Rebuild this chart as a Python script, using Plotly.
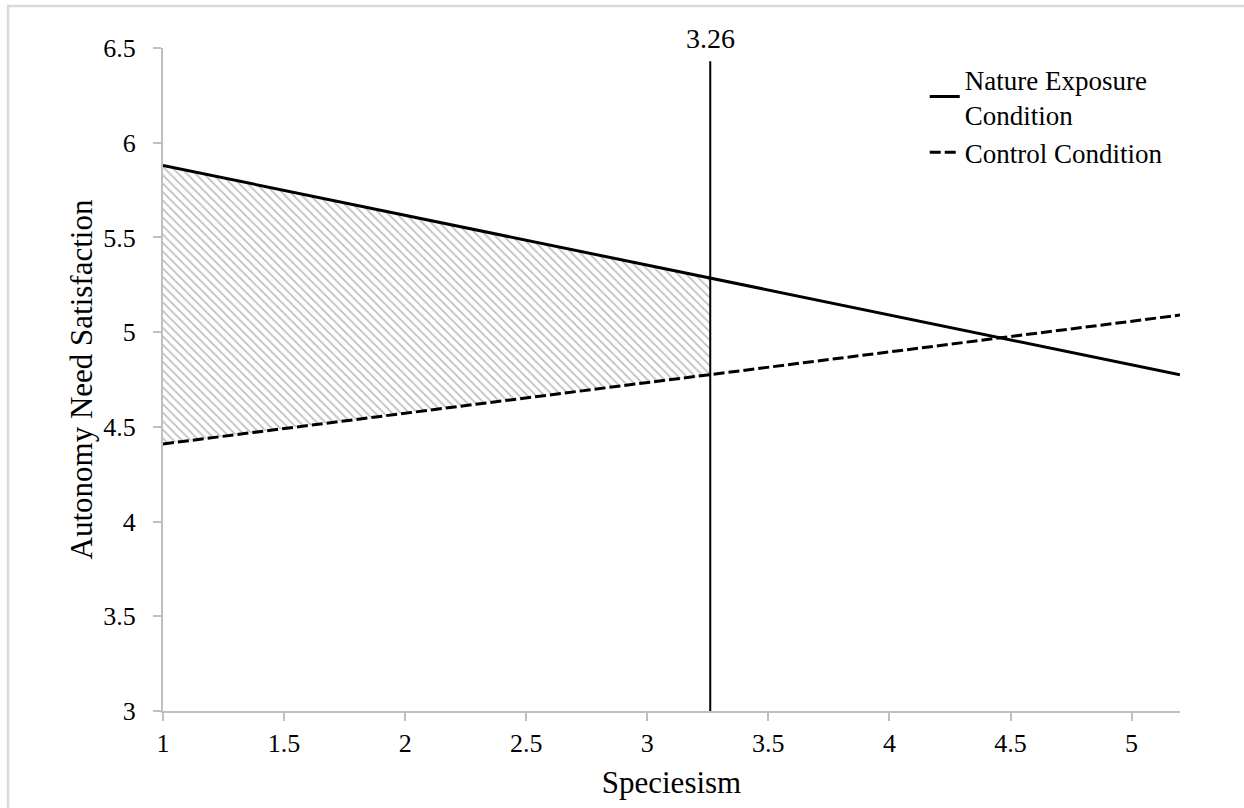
import plotly.graph_objects as go

# Data
x_range_ends = [1, 5.2]
nature_y = [5.88, 4.775]
control_y = [4.41, 5.09]
jn_point = 3.26
jn_label = "3.26"
region_x = [1, 3.26, 3.26, 1]
region_y = [5.88, 5.285, 4.774, 4.41]
vline_y = [3, 6.43]
x_ticks = [1, 1.5, 2, 2.5, 3, 3.5, 4, 4.5, 5]
y_ticks = [3, 3.5, 4, 4.5, 5, 5.5, 6, 6.5]
series_names = ["Nature Exposure<br>Condition", "Control Condition"]

FONT = "Liberation Serif, Times New Roman, serif"
AXIS_COLOR = "#bfbfbf"

fig = go.Figure()

# Shaded region of significance
fig.add_trace(go.Scatter(
    x=region_x + [region_x[0]], y=region_y + [region_y[0]],
    mode="lines", fill="toself",
    line=dict(width=0, color="rgba(0,0,0,0)"),
    fillcolor="white",
    fillpattern=dict(shape="\\", fgcolor="#808080", bgcolor="white", size=6, solidity=0.3),
    showlegend=False, hoverinfo="skip",
))

# Vertical line at 3.26
fig.add_trace(go.Scatter(
    x=[jn_point, jn_point], y=vline_y, mode="lines",
    line=dict(color="black", width=2), showlegend=False, hoverinfo="skip",
))

fig.add_trace(go.Scatter(
    x=x_range_ends, y=nature_y, mode="lines", name=series_names[0],
    line=dict(color="black", width=3),
))
fig.add_trace(go.Scatter(
    x=x_range_ends, y=control_y, mode="lines", name=series_names[1],
    line=dict(color="black", width=3, dash="11px,4px"),
))

fig.add_annotation(
    x=jn_point, y=1.015, xref="x", yref="paper", text=jn_label,
    showarrow=False, font=dict(family=FONT, size=28, color="black"),
    yanchor="middle", xanchor="center",
)

# outer frame
fig.add_shape(type="rect", xref="paper", yref="paper",
              x0=-0.1524, x1=1.3, y0=-0.4, y1=1.0633,
              line=dict(color="#d9d9d9", width=2.5), layer="below")

fig.update_layout(
    width=1244, height=808,
    margin=dict(l=163, r=64, t=48, b=97),
    paper_bgcolor="white", plot_bgcolor="white",
    font=dict(family=FONT, size=26, color="black"),
    showlegend=True,
    legend=dict(
        x=0.749, y=0.9895, xanchor="left", yanchor="top",
        font=dict(family=FONT, size=27, color="black"),
        bgcolor="rgba(0,0,0,0)", tracegroupgap=0,
    ),
    xaxis=dict(
        range=[1, 5.2], tickvals=x_ticks, ticktext=[f"{v:g}" for v in x_ticks],
        showgrid=False, zeroline=False, showline=True, linecolor=AXIS_COLOR, linewidth=2,
        ticks="outside", ticklen=8, tickwidth=2, tickcolor=AXIS_COLOR,
        title=dict(text="Speciesism", font=dict(family=FONT, size=31), standoff=14),
        tickfont=dict(family=FONT, size=26),
        ticklabelstandoff=0,
    ),
    yaxis=dict(
        range=[3, 6.5], tickvals=y_ticks, ticktext=[f"{v:g}" for v in y_ticks],
        showgrid=False, zeroline=False, showline=True, linecolor=AXIS_COLOR, linewidth=2,
        ticks="outside", ticklen=8, tickwidth=2, tickcolor=AXIS_COLOR,
        title=dict(text="Autonomy Need Satisfaction", font=dict(family=FONT, size=31), standoff=1),
        tickfont=dict(family=FONT, size=26),
        ticklabelstandoff=12,
    ),
)

fig.write_html("out.html", config={"displayModeBar": False},
               post_script="document.body.style.margin='0';")
